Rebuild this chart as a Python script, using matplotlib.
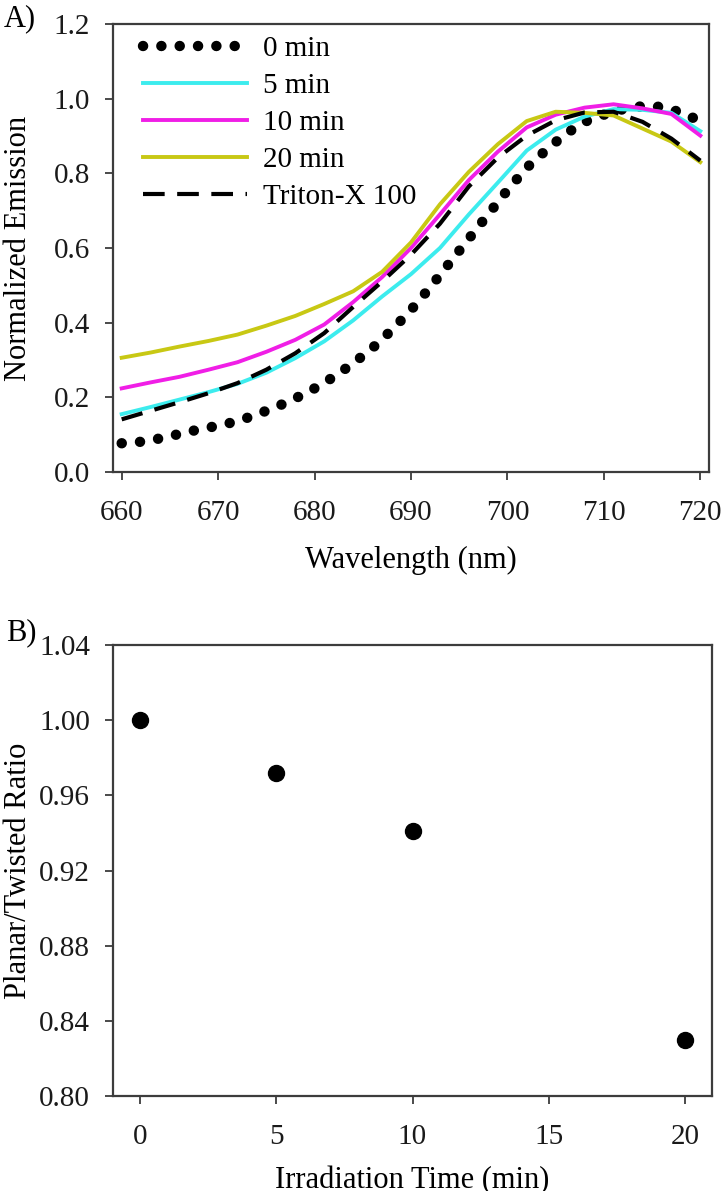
import matplotlib
matplotlib.use("Agg")
import matplotlib.pyplot as plt

plt.rcParams['font.family'] = ['Liberation Serif', 'DejaVu Serif']

# ---- Panel A data ----
wl_0min = [660, 662, 664, 666, 668, 670, 672, 674, 676, 678, 680, 682, 684, 686,
           688, 690, 692, 694, 696, 698, 700, 702, 704, 706, 708, 710, 712, 714,
           716, 718, 720]
em_0min = [0.077, 0.081, 0.090, 0.102, 0.114, 0.124, 0.136, 0.154, 0.174, 0.197,
           0.224, 0.255, 0.291, 0.332, 0.380, 0.434, 0.495, 0.560, 0.625, 0.690,
           0.755, 0.815, 0.862, 0.905, 0.938, 0.957, 0.972, 0.980, 0.978, 0.963,
           0.940]

wl = [660, 663, 666, 669, 672, 675, 678, 681, 684, 687, 690, 693, 696, 699,
      702, 705, 708, 711, 714, 717, 720]
em_5min = [0.155, 0.174, 0.194, 0.214, 0.236, 0.266, 0.305, 0.350, 0.406, 0.470,
           0.530, 0.600, 0.690, 0.775, 0.861, 0.917, 0.952, 0.972, 0.970, 0.962,
           0.913]
em_10min = [0.224, 0.240, 0.255, 0.274, 0.294, 0.322, 0.354, 0.395, 0.455, 0.522,
            0.600, 0.690, 0.782, 0.858, 0.923, 0.957, 0.976, 0.985, 0.974, 0.959,
            0.901]
em_20min = [0.306, 0.320, 0.336, 0.351, 0.368, 0.392, 0.418, 0.450, 0.484, 0.536,
            0.615, 0.717, 0.804, 0.878, 0.940, 0.965, 0.962, 0.955, 0.920, 0.885,
            0.830]
em_triton = [0.141, 0.164, 0.187, 0.211, 0.238, 0.274, 0.318, 0.372, 0.442, 0.510,
             0.582, 0.665, 0.765, 0.842, 0.901, 0.942, 0.963, 0.965, 0.938, 0.893,
             0.834]

labels_A = ['0 min', '5 min', '10 min', '20 min', 'Triton-X 100']

# ---- Panel B data ----
irr_time = [0, 5, 10, 20]
ratio = [1.000, 0.972, 0.941, 0.830]

W, H = 722, 1191
fig = plt.figure(figsize=(W / 100, H / 100), dpi=100)

spine_col = '#3c3c3c'
fs_tick = 21
fs_lab = 22

def style_axes(ax):
    for s in ax.spines.values():
        s.set_color(spine_col)
        s.set_linewidth(1.6)
    ax.tick_params(direction='out', length=5.5, width=1.3, color=spine_col,
                   labelsize=fs_tick, labelcolor='#1a1a1a', top=False, right=False)
    ax.tick_params(axis='x', pad=15)
    ax.tick_params(axis='y', pad=11)

# Panel A
axA = fig.add_axes([113 / W, 1 - 472 / H, (709 - 113) / W, (472 - 24) / H])
axA.plot(wl_0min, em_0min, color='black', lw=7.5, linestyle=(0, (0.01, 1.75)),
         dash_capstyle='round', label=labels_A[0])
axA.plot(wl, em_5min, color='#3cecee', lw=2.8, label=labels_A[1])
axA.plot(wl, em_10min, color='#f01ee6', lw=2.8, label=labels_A[2])
axA.plot(wl, em_20min, color='#c8c814', lw=2.8, label=labels_A[3])
axA.plot(wl, em_triton, color='black', lw=3.0, linestyle=(0, (5.2, 3.0)),
         label=labels_A[4])
axA.set_xlim(659.1, 720.9)
axA.set_ylim(0.0, 1.2)
axA.set_xticks([660, 670, 680, 690, 700, 710, 720])
axA.set_yticks([0.0, 0.2, 0.4, 0.6, 0.8, 1.0, 1.2])
axA.set_yticklabels(['0.0', '0.2', '0.4', '0.6', '0.8', '1.0', '1.2'])
axA.set_xlabel('Wavelength (nm)', fontsize=fs_lab, labelpad=14)
axA.set_ylabel('Normalized Emission', fontsize=fs_lab)
axA.yaxis.set_label_coords(-80 / 596, 0.5)
style_axes(axA)
leg = axA.legend(loc='upper left', bbox_to_anchor=(30 / 596, 1 - 12 / 448),
                 frameon=False, fontsize=fs_tick, handlelength=3.55,
                 handletextpad=0.55, labelspacing=0.36, borderpad=0,
                 borderaxespad=0)
fig.text(4 / W, 1 - 19 / H, 'A)', fontsize=fs_lab, va='center', ha='left')

# Panel B
axB = fig.add_axes([113 / W, 1 - 1096 / H, (712 - 113) / W, (1096 - 645) / H])
axB.plot(irr_time, ratio, linestyle='none', marker='o', markersize=11.5,
         color='black')
axB.set_xlim(-1, 21)
axB.set_ylim(0.80, 1.04)
axB.set_xticks([0, 5, 10, 15, 20])
axB.set_yticks([0.80, 0.84, 0.88, 0.92, 0.96, 1.00, 1.04])
axB.set_yticklabels(['0.80', '0.84', '0.88', '0.92', '0.96', '1.00', '1.04'])
axB.set_xlabel('Irradiation Time (min)', fontsize=fs_lab, labelpad=11)
axB.set_ylabel('Planar/Twisted Ratio', fontsize=fs_lab)
axB.yaxis.set_label_coords(-80 / 599, 0.5)
style_axes(axB)
fig.text(6 / W, 1 - 633 / H, 'B)', fontsize=fs_lab, va='center', ha='left')

fig.savefig('out.png', dpi=100)
